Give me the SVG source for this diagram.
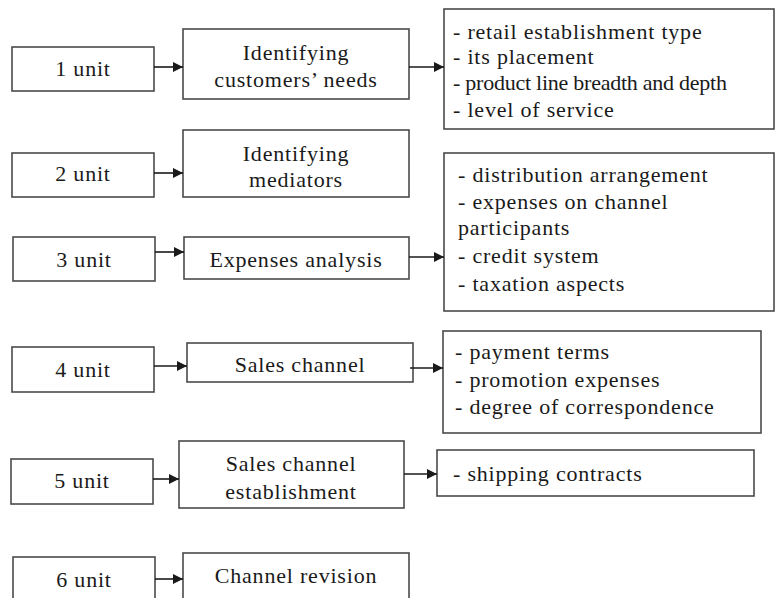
<svg xmlns="http://www.w3.org/2000/svg" width="777" height="598" viewBox="0 0 777 598">
<defs>
<marker id="ah" viewBox="0 0 10 10" refX="10" refY="5" markerWidth="10" markerHeight="10" markerUnits="userSpaceOnUse" orient="auto">
<path d="M0,0 L10,5 L0,10 z" fill="#1a1a1a"/>
</marker>
</defs>
<style>
rect{fill:#fff;stroke:#4a4a4a;stroke-width:1.6}
text{font-family:"Liberation Serif","Times New Roman",serif;font-size:22px;letter-spacing:0.8px;fill:#1a1a1a}
.c{text-anchor:middle}
.ln{stroke:#1a1a1a;stroke-width:1.6;fill:none;marker-end:url(#ah)}
</style>
<rect x="0" y="0" width="777" height="598" style="fill:#fff;stroke:none"/>
<g id="u1"><rect x="12" y="47" width="142" height="44"/><text class="c" x="83" y="76">1 unit</text></g>
<g id="u2"><rect x="12" y="153" width="142" height="44"/><text class="c" x="83" y="181">2 unit</text></g>
<g id="u3"><rect x="13" y="237" width="142" height="44"/><text class="c" x="84" y="267">3 unit</text></g>
<g id="u4"><rect x="12" y="347" width="142" height="45"/><text class="c" x="83" y="377">4 unit</text></g>
<g id="u5"><rect x="11" y="459" width="142" height="45"/><text class="c" x="82" y="488">5 unit</text></g>
<g id="u6"><rect x="13" y="557" width="142" height="50"/><text class="c" x="84" y="587">6 unit</text></g>

<g id="n1"><rect x="183" y="29" width="226" height="70"/><text class="c" x="296" y="60">Identifying</text><text class="c" x="296" y="87">customers’ needs</text></g>
<g id="n2"><rect x="183" y="130" width="226" height="67"/><text class="c" x="296" y="161">Identifying</text><text class="c" x="296" y="187">mediators</text></g>
<g id="n3"><rect x="184" y="237" width="225" height="42"/><text class="c" x="296" y="267">Expenses analysis</text></g>
<g id="n4"><rect x="187" y="343" width="226" height="39"/><text class="c" x="300" y="372">Sales channel</text></g>
<g id="n5"><rect x="179" y="441" width="225" height="67"/><text class="c" x="291" y="471">Sales channel</text><text class="c" x="291" y="499">establishment</text></g>
<g id="n6"><rect x="183" y="553" width="226" height="55"/><text class="c" x="296" y="583">Channel revision</text></g>

<g id="d1"><rect x="444" y="9" width="330" height="120"/>
<text x="453" y="39">- retail establishment type</text>
<text x="453" y="64">- its placement</text>
<text x="453" y="90" textLength="274" lengthAdjust="spacing" style="letter-spacing:0">- product line breadth and depth</text>
<text x="453" y="117">- level of service</text></g>
<g id="d3"><rect x="444" y="153" width="330" height="158"/>
<text x="458" y="182">- distribution arrangement</text>
<text x="458" y="209">- expenses on channel</text>
<text x="458" y="235">participants</text>
<text x="458" y="263">- credit system</text>
<text x="458" y="291">- taxation aspects</text></g>
<g id="d4"><rect x="443" y="331" width="318" height="102"/>
<text x="455" y="359">- payment  terms</text>
<text x="455" y="387">- promotion expenses</text>
<text x="455" y="414">- degree of correspondence</text></g>
<g id="d5"><rect x="437" y="450" width="317" height="46"/>
<text x="453" y="481">- shipping contracts</text></g>

<g id="connectors">
<line class="ln" x1="154" y1="67" x2="183" y2="67"/>
<line class="ln" x1="154" y1="173" x2="183" y2="173"/>
<line class="ln" x1="155" y1="252" x2="184" y2="252"/>
<line class="ln" x1="154" y1="366" x2="187" y2="366"/>
<line class="ln" x1="153" y1="479" x2="179" y2="479"/>
<line class="ln" x1="155" y1="579" x2="183" y2="579"/>
<line class="ln" x1="409" y1="67" x2="444" y2="67"/>
<line class="ln" x1="409" y1="257" x2="444" y2="257"/>
<line class="ln" x1="410" y1="368" x2="443" y2="368"/>
<line class="ln" x1="404" y1="474" x2="437" y2="474"/>
</g>
</svg>
